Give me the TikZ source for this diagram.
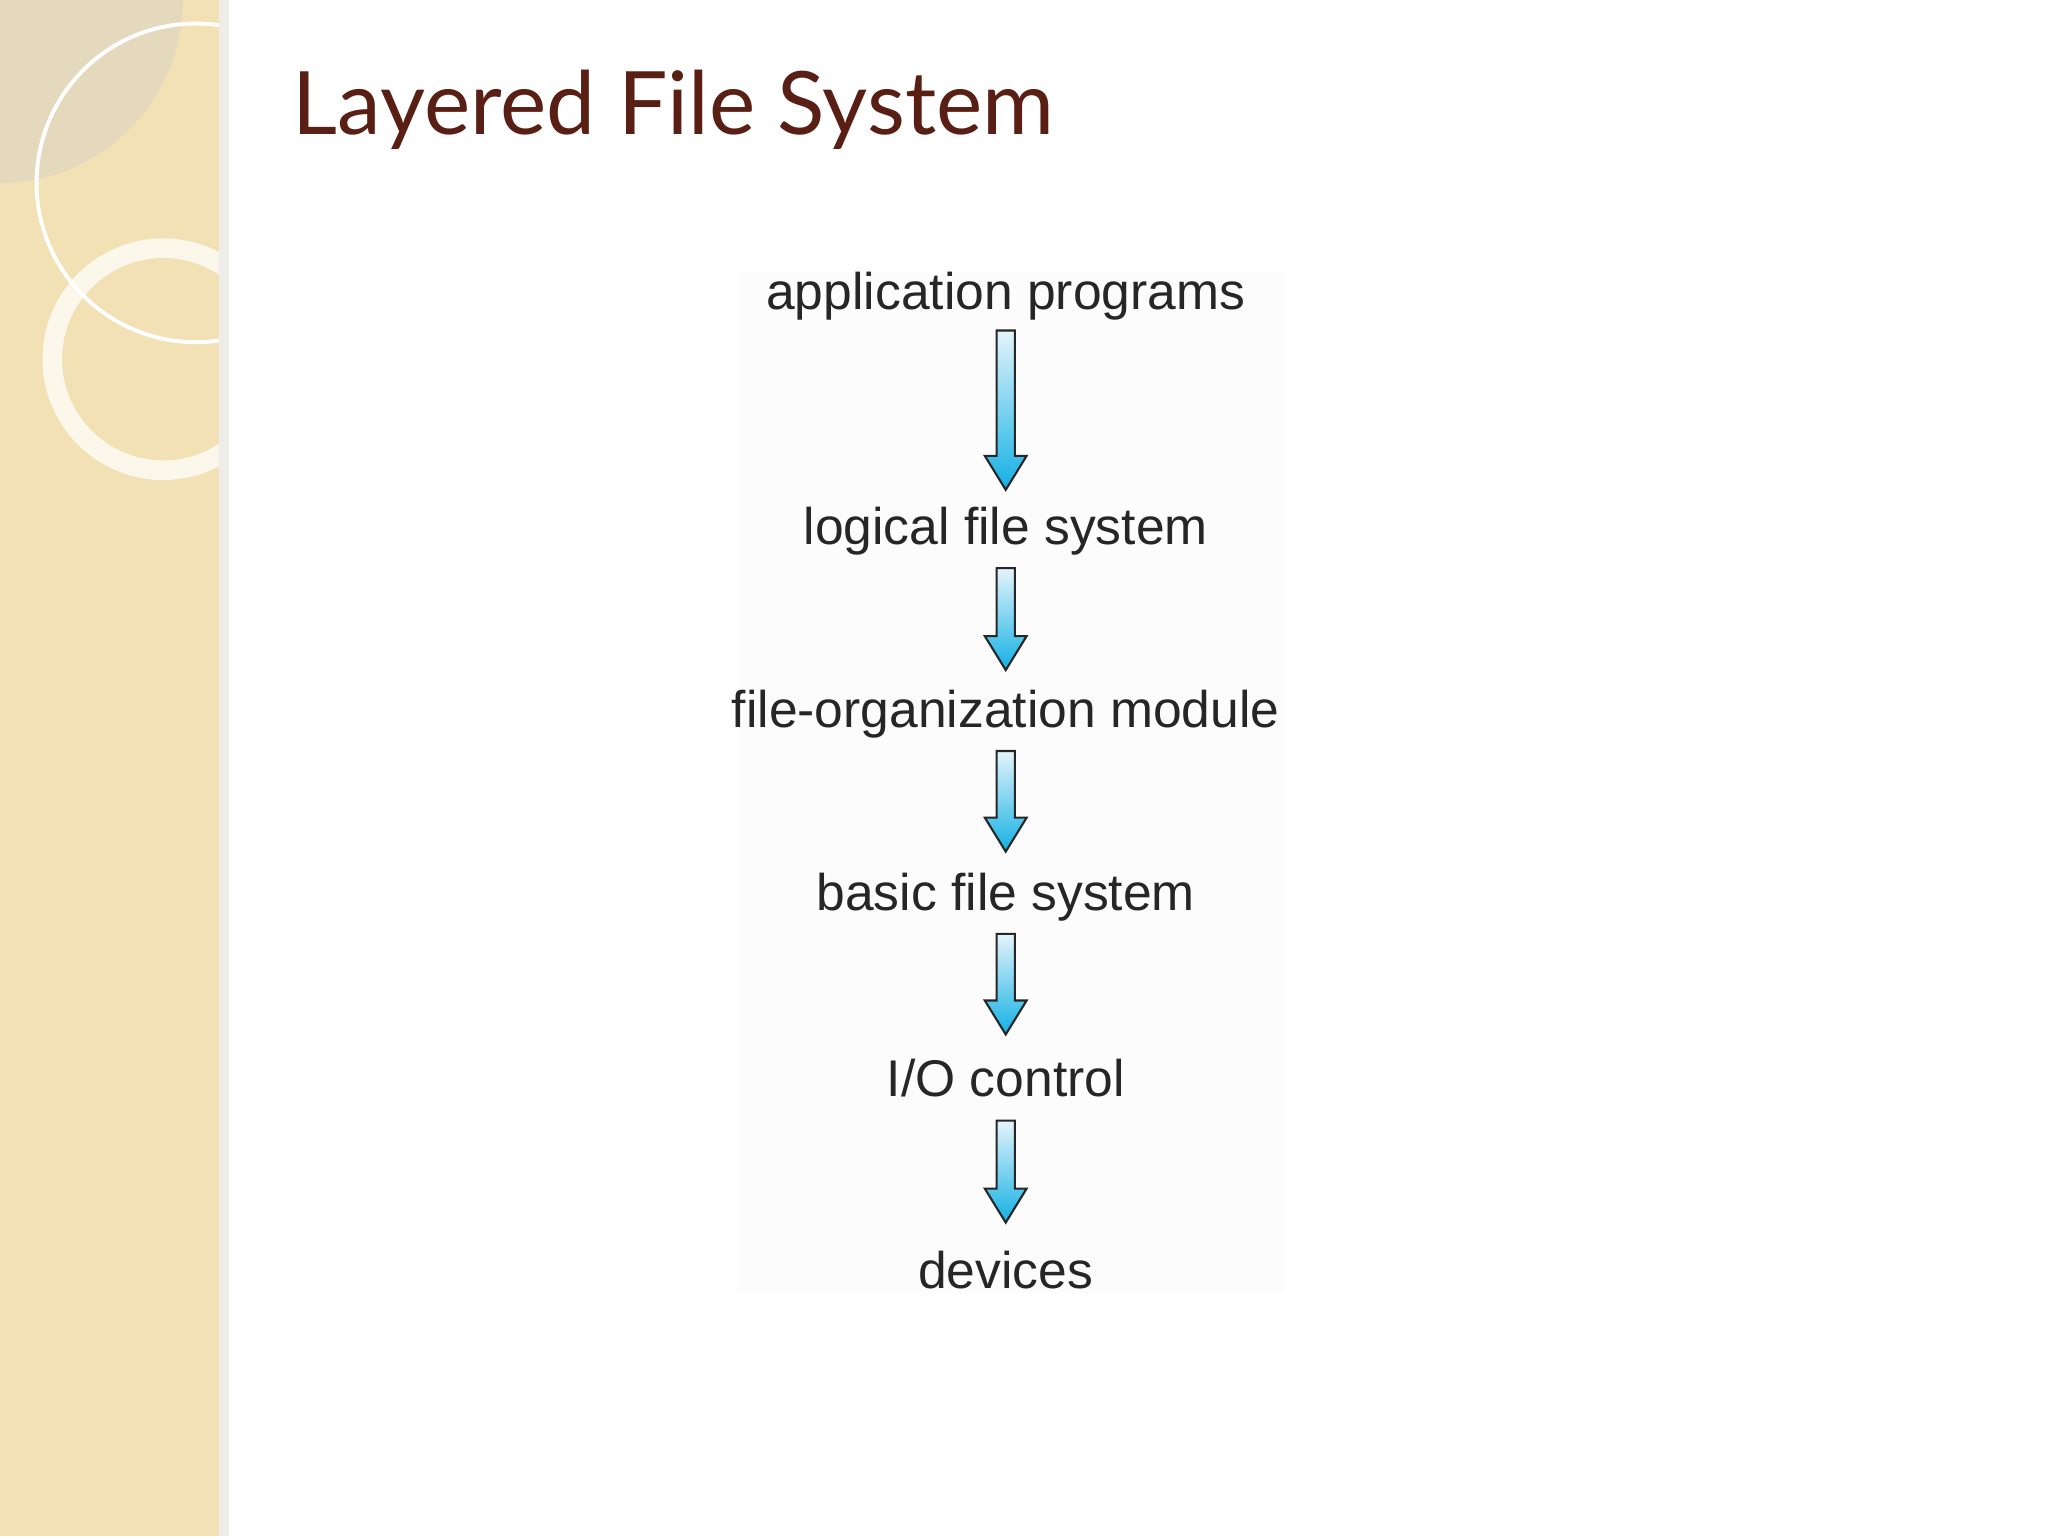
\documentclass[tikz,border=0pt]{standalone}
\usepackage{fontspec}
\setmainfont{Liberation Sans}
\newfontfamily\titlefont{Lato}
\usetikzlibrary{calc}
\definecolor{beige}{HTML}{F1E1B4}
\definecolor{titlebrown}{HTML}{5A1F14}
\definecolor{arrowtop}{HTML}{E4F4FB}
\definecolor{arrowbot}{HTML}{12B0E4}
\tikzset{
  lbl/.style={font=\fontsize{39.5}{42}\selectfont, text=black!85, inner sep=0pt},
  fatarrow/.style={draw=black!85, line width=1.6pt, top color=arrowtop, bottom color=arrowbot, line join=miter}
}
\newcommand{\layerarrow}[2]{% from y #1 to y #2 at x=770
  \path[fatarrow] (763,#1) -- (777,#1) -- (777,#2-26) -- (786,#2-26) -- (770,#2) -- (754,#2-26) -- (763,#2-26) -- cycle;}
\begin{document}
\begin{tikzpicture}[x=1pt,y=-1pt]
\useasboundingbox (0,0) rectangle (1568,1176);
\fill[white] (0,0) rectangle (1568,1176);
% left decorative strip
\fill[beige] (0,0) rectangle (173,1176);
\begin{scope}
\clip (0,0) rectangle (173,1176);
\fill[black!20, opacity=0.35] (0,0) circle (140);
\draw[white!92!beige, line width=15pt, opacity=0.8] (125,275) circle (85);
\draw[white, line width=3pt] (150,140) circle (122);
\end{scope}
\fill[beige!60!black!15] (168,0) rectangle (175,1176);
% title
\node[anchor=west, inner sep=0pt, text=titlebrown, font=\titlefont\fontsize{67}{72}\selectfont] (title) at (224,84) {Layered File System};
% figure background
\fill[black!1] (565,208) rectangle (983,990);
% layers
\node[lbl] (app) at (770,227) {application programs};
\node[lbl] (lfs) at (770,407) {logical file system};
\node[lbl] (fom) at (770,547) {file-organization module};
\node[lbl] (bfs) at (770,687) {basic file system};
\node[lbl] (ioc) at (770,825) {I/O control};
\node[lbl] (dev) at (770,972) {devices};
\layerarrow{253}{375}
\layerarrow{435}{513}
\layerarrow{575}{652}
\layerarrow{715}{792}
\layerarrow{858}{936}
\end{tikzpicture}
\end{document}
